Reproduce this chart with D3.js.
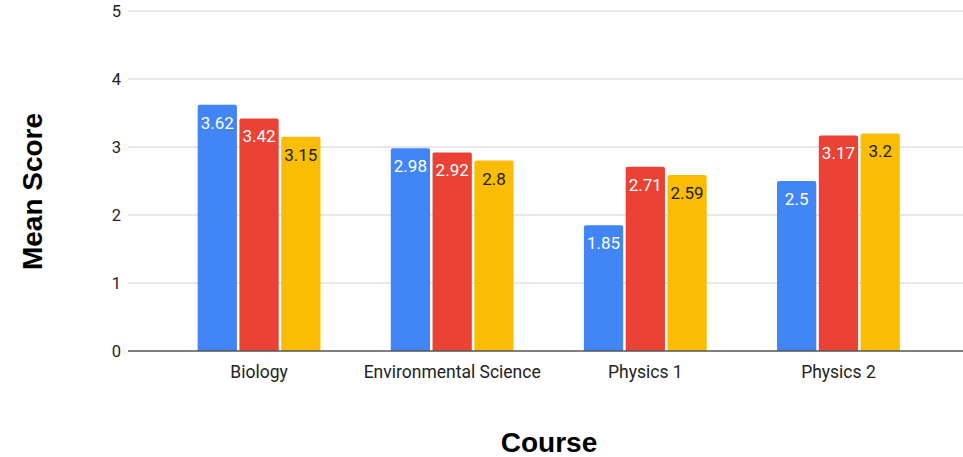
<!DOCTYPE html>
<html><head><meta charset="utf-8">
<script src="https://cdn.jsdelivr.net/npm/d3@7"></script>
<style>body{margin:0;background:#fff}svg{display:block}</style>
</head><body>
<svg id="c" width="963" height="457"></svg>
<script>
const courses = ["Biology", "Environmental Science", "Physics 1", "Physics 2"];
const seriesNames = ["Series A", "Series B", "Series C"];
const seriesA = [3.62, 2.98, 1.85, 2.5];
const seriesB = [3.42, 2.92, 2.71, 3.17];
const seriesC = [3.15, 2.8, 2.59, 3.2];
const yTicks = [0, 1, 2, 3, 4, 5];
const colors = ["#4285F4", "#EA4335", "#FBBC04"];
const labelColors = ["#ffffff", "#ffffff", "#202124"];

const series = [seriesA, seriesB, seriesC];
const svg = d3.select("#c");
const y = d3.scaleLinear().domain([0, 5]).range([351, 11]);
const x0 = d3.scaleBand().domain(courses).range([162.5, 935]).paddingInner(0.364).paddingOuter(0.182);
const x1 = d3.scaleBand().domain(d3.range(3)).range([0, x0.bandwidth()]).paddingInner(0.06);

// gridlines
svg.append("g").selectAll("line").data(yTicks.filter(d => d > 0)).join("line")
  .attr("x1", 128).attr("x2", 963)
  .attr("y1", d => y(d)).attr("y2", d => y(d))
  .attr("stroke", "#d0d0d0").attr("stroke-width", 1);

// y tick labels
svg.append("g").selectAll("text").data(yTicks).join("text")
  .attr("x", 121).attr("y", d => y(d)).attr("dy", "0.35em")
  .attr("text-anchor", "end")
  .attr("font-family", "Roboto, Arial, sans-serif").attr("font-size", 16.5)
  .attr("fill", "#222").text(d => d);

const rr = 2;
function topRounded(x, yTop, w, yBot) {
  const r = Math.min(rr, (yBot - yTop) / 2);
  return `M${x},${yBot}V${yTop + r}Q${x},${yTop} ${x + r},${yTop}H${x + w - r}Q${x + w},${yTop} ${x + w},${yTop + r}V${yBot}Z`;
}

const groups = svg.append("g").selectAll("g").data(courses).join("g")
  .attr("transform", d => `translate(${x0(d)},0)`);

groups.each(function(course, ci) {
  const g = d3.select(this);
  series.forEach((s, si) => {
    const v = s[ci];
    g.append("path")
      .attr("d", topRounded(x1(si), y(v), x1.bandwidth(), y(0)))
      .attr("fill", colors[si]);
    g.append("text")
      .attr("x", x1(si) + x1.bandwidth() / 2)
      .attr("y", y(v) + 24)
      .attr("text-anchor", "middle")
      .attr("font-family", "Roboto, Arial, sans-serif").attr("font-size", 17)
      .attr("fill", labelColors[si]).text(v);
  });
});

// baseline
svg.append("line").attr("x1", 128).attr("x2", 963).attr("y1", y(0)).attr("y2", y(0))
  .attr("stroke", "#555").attr("stroke-width", 1.5);

// category labels
svg.append("g").selectAll("text").data(courses).join("text")
  .attr("x", d => x0(d) + x0.bandwidth() / 2).attr("y", 377.5)
  .attr("text-anchor", "middle")
  .attr("font-family", "Roboto, Arial, sans-serif").attr("font-size", 17.5)
  .attr("fill", "#222").text(d => d);

// axis titles
svg.append("text").attr("x", 549).attr("y", 452).attr("text-anchor", "middle")
  .attr("font-family", "'Liberation Sans', Arial, sans-serif").attr("font-weight", "bold")
  .attr("font-size", 28).attr("fill", "#000").text("Course");

svg.append("text").attr("transform", "translate(41.5,191.5) rotate(-90)")
  .attr("text-anchor", "middle")
  .attr("font-family", "'Liberation Sans', Arial, sans-serif").attr("font-weight", "bold")
  .attr("font-size", 28).attr("fill", "#000").text("Mean Score");
</script>
</body></html>
